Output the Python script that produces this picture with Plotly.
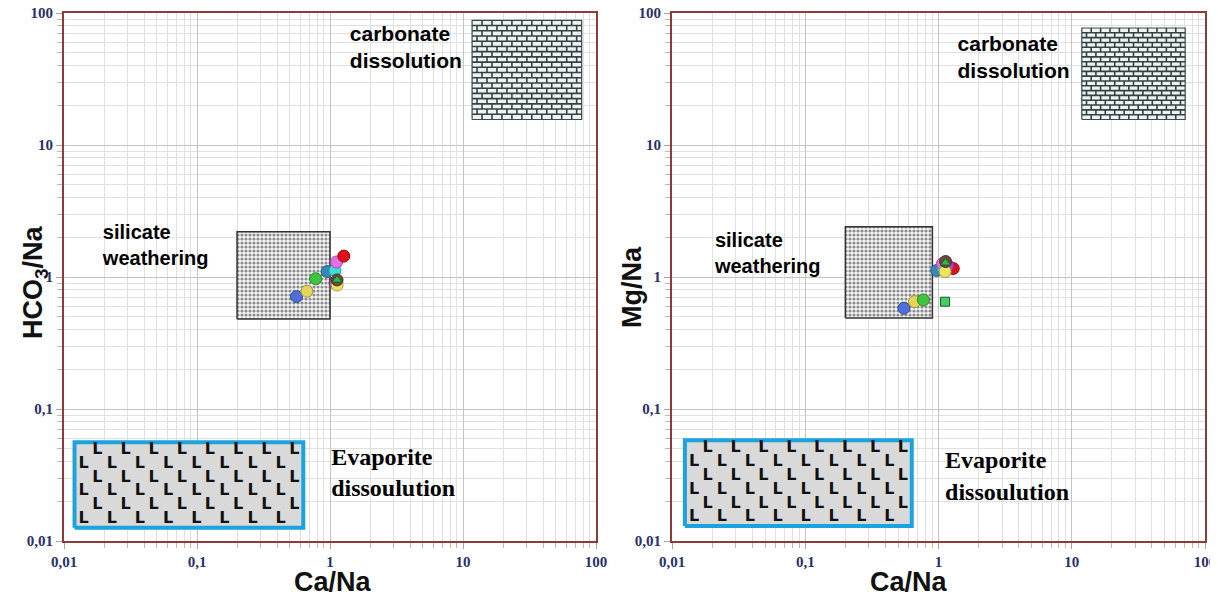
import numpy as np
import plotly.graph_objects as go

# ---------------- data ----------------
tick_vals = [0.01, 0.1, 1, 10, 100]
tick_text = ["0,01", "0,1", "1", "10", "100"]

sample_colors = ["#4f6fd8", "#e6d35a", "#3ec43e", "#3a86b8", "#3fdcdc",
                 "#e66ee8", "#e0101c", "#b83cc0", "#ece25c", "#6b4a3a"]

# left panel: Ca/Na vs HCO3/Na
ca_na_left = [0.56, 0.67, 0.78, 0.95, 1.09, 1.12, 1.27, 1.09, 1.13, 1.13]
hco3_na = [0.71, 0.78, 0.97, 1.10, 1.12, 1.30, 1.44, 0.90, 0.87, 0.95]
tri_left_x = [1.13]
tri_left_y = [0.95]

# right panel: Ca/Na vs Mg/Na
ca_na_right = [0.55, 0.66, 0.77, 0.97, 1.08, 1.07, 1.29, 1.18, 1.12, 1.13]
mg_na = [0.58, 0.65, 0.67, 1.12, 1.18, 1.26, 1.16, 1.22, 1.10, 1.31]
tri_right_x = [1.13]
tri_right_y = [1.28]
sq_right_x = [1.12]
sq_right_y = [0.65]

# region boxes (x0, x1, y0, y1)
silicate_left = (0.2, 1.0, 0.48, 2.2)
silicate_right = (0.2, 0.9, 0.49, 2.4)
carbonate_left = (11.7, 78, 15.6, 88)
carbonate_right = (11.9, 71, 15.6, 77)
evaporite_left = (0.012, 0.63, 0.0126, 0.056)
evaporite_right = (0.0125, 0.63, 0.013, 0.058)

# region labels (x, y)
lab_carb_left = (1.41, 52.9)
lab_sil_left = (0.0196, 1.70)
lab_evap_left = (1.02, 0.0318)
lab_carb_right = (1.39, 44.8)
lab_sil_right = (0.021, 1.46)
lab_evap_right = (1.12, 0.030)

fig = go.Figure()


def rect_xy(b):
    x0, x1, y0, y1 = b
    return [x0, x1, x1, x0, x0], [y0, y0, y1, y1, y0]


def add_silicate(b, xa, ya):
    xs, ys = rect_xy(b)
    fig.add_trace(go.Scatter(x=xs, y=ys, mode="lines", fill="toself",
                             fillcolor="#ffffff",
                             fillpattern=dict(shape=".", size=4, solidity=0.5,
                                              fgcolor="#222222", bgcolor="#f6f6f6"),
                             line=dict(color="#333333", width=1.5),
                             xaxis=xa, yaxis=ya, hoverinfo="skip", showlegend=False))


def add_carbonate(b, xa, ya):
    x0, x1, y0, y1 = b
    xs, ys = rect_xy(b)
    fig.add_trace(go.Scatter(x=xs, y=ys, mode="lines", fill="toself",
                             fillcolor="#eef2f2", line=dict(color="#3a4a4a", width=1.2),
                             xaxis=xa, yaxis=ya, hoverinfo="skip", showlegend=False))
    lx0, lx1, ly0, ly1 = np.log10([x0, x1, y0, y1])
    nrows, ncols = 19, 11
    h = (ly1 - ly0) / nrows
    w = (lx1 - lx0) / ncols
    mx, my = [], []
    for r in range(1, nrows):
        yy = 10 ** (ly0 + r * h)
        mx += [x0, x1, None]
        my += [yy, yy, None]
    for r in range(nrows):
        off = 0.5 * (r % 2)
        for c in range(ncols + 1):
            lx = lx0 + (c + off) * w
            if lx0 < lx < lx1:
                mx += [10 ** lx, 10 ** lx, None]
                my += [10 ** (ly0 + r * h), 10 ** (ly0 + (r + 1) * h), None]
    fig.add_trace(go.Scatter(x=mx, y=my, mode="lines",
                             line=dict(color="#334343", width=1.6),
                             xaxis=xa, yaxis=ya, hoverinfo="skip", showlegend=False))


def add_evaporite(b, xa, ya):
    x0, x1, y0, y1 = b
    xs, ys = rect_xy(b)
    fig.add_trace(go.Scatter(x=xs, y=ys, mode="lines", fill="toself",
                             fillcolor="#d9d9d9", line=dict(color="#1ba3e0", width=4),
                             xaxis=xa, yaxis=ya, hoverinfo="skip", showlegend=False))
    lx0, lx1, ly0, ly1 = np.log10([x0, x1, y0, y1])
    tx, ty = [], []
    for r in range(6):
        fy = 0.09 + r * 0.162
        start = 0.10 if r % 2 == 0 else 0.04
        for k in range(8):
            fx = start + k * 0.123
            if fx < 0.985:
                tx.append(10 ** (lx0 + fx * (lx1 - lx0)))
                ty.append(10 ** (ly1 - fy * (ly1 - ly0)))
    fig.add_trace(go.Scatter(x=tx, y=ty, mode="text", text=["L"] * len(tx),
                             textfont=dict(family="DejaVu Sans", size=16,
                                           color="#111111", weight="bold"),
                             xaxis=xa, yaxis=ya, hoverinfo="skip", showlegend=False))


def add_label(pos, text, xa, ya, family, size):
    fig.add_trace(go.Scatter(x=[pos[0]], y=[pos[1]], mode="text", text=[text],
                             textposition="middle right",
                             textfont=dict(family=family, size=size, color="#000000",
                                           weight="bold"),
                             xaxis=xa, yaxis=ya, hoverinfo="skip", showlegend=False))


def darker(hexc, f=0.7):
    h = hexc.lstrip("#")
    r, g, b = int(h[0:2], 16), int(h[2:4], 16), int(h[4:6], 16)
    return "#%02x%02x%02x" % (int(r * f), int(g * f), int(b * f))


for xa, ya, sil, carb, evap, lc, ls, le in [
        ("x", "y", silicate_left, carbonate_left, evaporite_left,
         lab_carb_left, lab_sil_left, lab_evap_left),
        ("x2", "y2", silicate_right, carbonate_right, evaporite_right,
         lab_carb_right, lab_sil_right, lab_evap_right)]:
    add_silicate(sil, xa, ya)
    add_carbonate(carb, xa, ya)
    add_evaporite(evap, xa, ya)
    add_label(lc, "carbonate<br>dissolution", xa, ya, "Liberation Sans", 21)
    add_label(ls, "silicate<br>weathering", xa, ya, "Liberation Sans", 20)
    add_label(le, "Evaporite<br>dissoulution", xa, ya, "Liberation Serif", 24)

# samples
for i, col in enumerate(sample_colors):
    fig.add_trace(go.Scatter(x=[ca_na_left[i]], y=[hco3_na[i]], mode="markers",
                             marker=dict(size=12, color=col,
                                         line=dict(color=darker(col), width=1)),
                             xaxis="x", yaxis="y", showlegend=False))
    fig.add_trace(go.Scatter(x=[ca_na_right[i]], y=[mg_na[i]], mode="markers",
                             marker=dict(size=12, color=col,
                                         line=dict(color=darker(col), width=1)),
                             xaxis="x2", yaxis="y2", showlegend=False))

fig.add_trace(go.Scatter(x=tri_left_x, y=tri_left_y, mode="markers",
                         marker=dict(symbol="triangle-up", size=9, color="#2fb84a",
                                     line=dict(color="#1d5a2a", width=1)),
                         xaxis="x", yaxis="y", showlegend=False))
fig.add_trace(go.Scatter(x=tri_right_x, y=tri_right_y, mode="markers",
                         marker=dict(symbol="triangle-up", size=9, color="#2fb84a",
                                     line=dict(color="#1d5a2a", width=1)),
                         xaxis="x2", yaxis="y2", showlegend=False))
fig.add_trace(go.Scatter(x=sq_right_x, y=sq_right_y, mode="markers",
                         marker=dict(symbol="square", size=9, color="#44d060",
                                     line=dict(color="#1d5a2a", width=1)),
                         xaxis="x2", yaxis="y2", showlegend=False))


def axis_common(domain, anchor):
    return dict(
        type="log", range=[-2, 2], domain=domain, anchor=anchor,
        automargin=False, ticklabeloverflow="allow",
        tickmode="array", tickvals=tick_vals, ticktext=tick_text,
        tickfont=dict(family="Liberation Serif", size=15, color="#27306c", weight="bold"),
        showline=True, linecolor="#8c3b3b", linewidth=2, mirror=True,
        ticks="outside", ticklen=6, tickcolor="#c09a9a",
        showgrid=True, gridcolor="#c4c4c4", gridwidth=1, zeroline=False,
        minor=dict(dtick="D1", ticks="outside", ticklen=5, tickcolor="#d0b0b0",
                   showgrid=True, gridcolor="#e0e0e0", gridwidth=1),
    )


W, H = 1218, 599
OFF = 8  # page body margin offset


def px_x(p):
    return (p - OFF) / W


def px_y(p):
    return 1 - (p - OFF) / H


ydom = [px_y(541), px_y(13)]
fig.update_layout(
    width=W, height=H, autosize=False,
    margin=dict(l=0, r=0, t=0, b=0, pad=0, autoexpand=False),
    paper_bgcolor="#ffffff", plot_bgcolor="#ffffff",
    showlegend=False,
    xaxis=axis_common([px_x(64), px_x(596)], "y"),
    yaxis=axis_common(ydom, "x"),
    xaxis2=axis_common([px_x(672), px_x(1205)], "y2"),
    yaxis2=axis_common(ydom, "x2"),
)

title_font = dict(family="Liberation Sans Narrow, Liberation Sans", size=27,
                  color="#111111", weight="bold")
for x, y, t, ang in [(333, 582, "Ca/Na", 0),
                     (909, 582, "Ca/Na", 0),
                     (35, 282, "HCO<sub>3</sub>/Na", -90),
                     (632, 287, "Mg/Na", -90)]:
    fig.add_annotation(x=px_x(x), y=px_y(y), xref="paper", yref="paper", text=t,
                       showarrow=False, textangle=ang, font=title_font,
                       xanchor="center", yanchor="middle")

fig.write_html("out.html")
